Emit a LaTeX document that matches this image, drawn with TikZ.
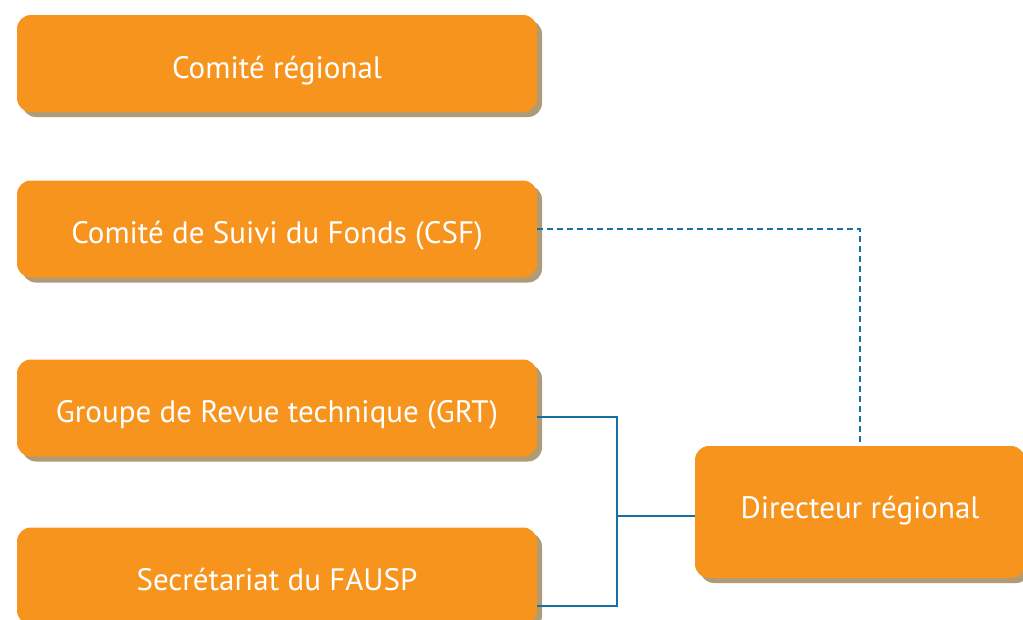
\documentclass[tikz,border=0pt]{standalone}
\usepackage{fontspec}
\setmainfont{PT Sans}
\usetikzlibrary{shadows}
\definecolor{boxorange}{HTML}{F7941E}
\definecolor{boxshadow}{HTML}{B09B77}
\definecolor{linkblue}{HTML}{17709F}
\begin{document}
\begin{tikzpicture}[x=1pt,y=-1pt,
  orgbox/.style={rectangle, rounded corners=14pt, fill=boxorange, text=white,
    minimum width=520pt, minimum height=97pt, inner sep=0pt,
    text height=29pt, text depth=0pt,
    font=\fontsize{31}{36}\selectfont,
    drop shadow={shadow xshift=5pt, shadow yshift=-5pt, fill=boxshadow, opacity=1}},
  link/.style={draw=linkblue, line width=2pt},
  dlink/.style={link, dash pattern=on 6pt off 4pt}]
\useasboundingbox (0,0) rectangle (1023,619);
\node[orgbox] (cr) at (277,63.5) {Comité régional};
\node[orgbox] (csf) at (277,229) {Comité de Suivi du Fonds (CSF)};
\node[orgbox] (grt) at (277,408) {Groupe de Revue technique (GRT)};
\node[orgbox] (sec) at (277,576) {Secrétariat du FAUSP};
\node[orgbox, minimum width=330pt, minimum height=132pt, text height=12pt] (dir) at (860,512) {Directeur régional};
\coordinate (j) at (617,516);
\draw[dlink] (csf.east) -| (dir.north);
\draw[link] ([yshift=-9pt]grt.east) -| (j) |- ([yshift=-30pt]sec.east);
\draw[link] (j) -- (j -| dir.west);
\end{tikzpicture}
\end{document}
